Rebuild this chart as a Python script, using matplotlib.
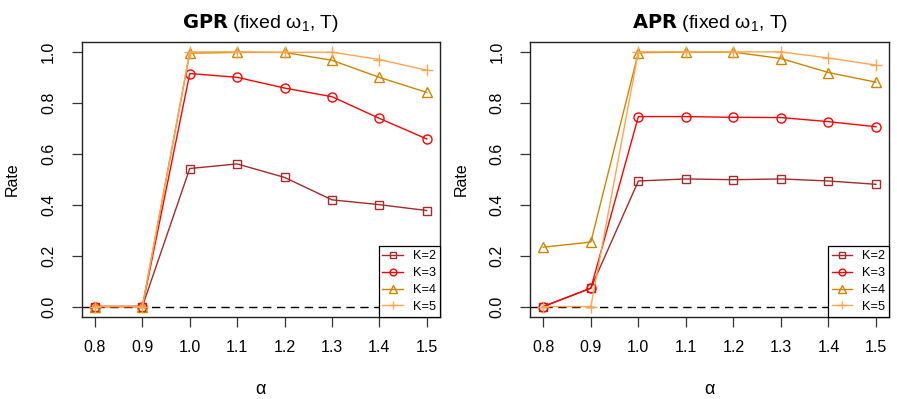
import matplotlib
matplotlib.use("Agg")
import matplotlib.pyplot as plt

plt.rcParams['font.family'] = ['Liberation Sans', 'DejaVu Sans']
plt.rcParams['mathtext.fontset'] = 'custom'
plt.rcParams['mathtext.rm'] = 'Liberation Sans'
plt.rcParams['mathtext.it'] = 'Liberation Sans'

alpha = [0.8, 0.9, 1.0, 1.1, 1.2, 1.3, 1.4, 1.5]
x_ticklabels = ["0.8", "0.9", "1.0", "1.1", "1.2", "1.3", "1.4", "1.5"]
y_ticks = [0.0, 0.2, 0.4, 0.6, 0.8, 1.0]
y_ticklabels = ["0.0", "0.2", "0.4", "0.6", "0.8", "1.0"]
labels = ["K=2", "K=3", "K=4", "K=5"]

gpr_k2 = [0.0, 0.0, 0.542, 0.560, 0.507, 0.419, 0.400, 0.377]
gpr_k3 = [0.0, 0.0, 0.915, 0.900, 0.858, 0.824, 0.739, 0.658]
gpr_k4 = [0.0, 0.0, 0.995, 0.998, 0.998, 0.967, 0.900, 0.841]
gpr_k5 = [0.0, 0.0, 1.000, 1.000, 0.998, 0.999, 0.970, 0.928]

apr_k2 = [0.0, 0.072, 0.493, 0.501, 0.498, 0.501, 0.493, 0.480]
apr_k3 = [0.0, 0.072, 0.746, 0.746, 0.743, 0.742, 0.726, 0.706]
apr_k4 = [0.233, 0.253, 0.997, 0.999, 0.999, 0.974, 0.919, 0.881]
apr_k5 = [0.0, 0.0, 1.000, 1.000, 1.000, 1.000, 0.976, 0.948]

colors = ["#A52A2A", "#FF0000", "#CD8500", "#FFA54F"]
markers = ["s", "o", "^", "+"]
msizes = [5.5, 6.5, 7.5, 8.5]

fig = plt.figure(figsize=(8.97, 3.99), dpi=100)
W, H = 897.0, 399.0
ax1 = fig.add_axes([81.7 / W, 1 - 316.7 / H, (440 - 81.7) / W, (316.7 - 41.7) / H])
ax2 = fig.add_axes([530 / W, 1 - 316.7 / H, (889.3 - 530) / W, (316.7 - 41.7) / H])

panels = [
    (ax1, "GPR", [gpr_k2, gpr_k3, gpr_k4, gpr_k5]),
    (ax2, "APR", [apr_k2, apr_k3, apr_k4, apr_k5]),
]

for ax, name, series in panels:
    handles = []
    for vals, c, m, ms, lab in zip(series, colors, markers, msizes, labels):
        h, = ax.plot(alpha, vals, color=c, marker=m, markersize=ms,
                     markerfacecolor='none', markeredgecolor=c,
                     markeredgewidth=1.0, linewidth=1.0, label=lab, zorder=3)
        handles.append(h)
    ax.axhline(0, color='black', linestyle=(0, (6, 4)), linewidth=1.0, zorder=2)
    ax.set_xlim(0.8 - 0.028, 1.5 + 0.028)
    ax.set_ylim(-0.04, 1.04)
    ax.set_xticks(alpha)
    ax.set_xticklabels(x_ticklabels)
    ax.set_yticks(y_ticks)
    ax.set_yticklabels(y_ticklabels, rotation=90, va='center')
    ax.tick_params(axis='both', direction='out', length=7.5, width=0.9,
                   labelsize=11.5, color='#333333', pad=9)
    ax.tick_params(axis='y', pad=11)
    for s in ax.spines.values():
        s.set_linewidth(1.0)
        s.set_color('#222222')
    ax.set_xlabel(r"$\alpha$", fontsize=13, labelpad=19)
    ax.set_ylabel("Rate", fontsize=11.5, labelpad=15)
    ax.set_title(r"$\bf{" + name + r"}$" + r" (fixed $\omega_1$, T)", fontsize=14, pad=10)
    leg = ax.legend(handles=handles, loc='lower right', fontsize=9.2,
                    frameon=True, fancybox=False, borderaxespad=0,
                    edgecolor='black', framealpha=1, markerscale=0.75,
                    handlelength=1.6, handletextpad=0.8, labelspacing=0.38,
                    borderpad=0.3)
    leg.get_frame().set_linewidth(0.9)
    leg.set_zorder(5)

fig.savefig("out.png", dpi=100)
